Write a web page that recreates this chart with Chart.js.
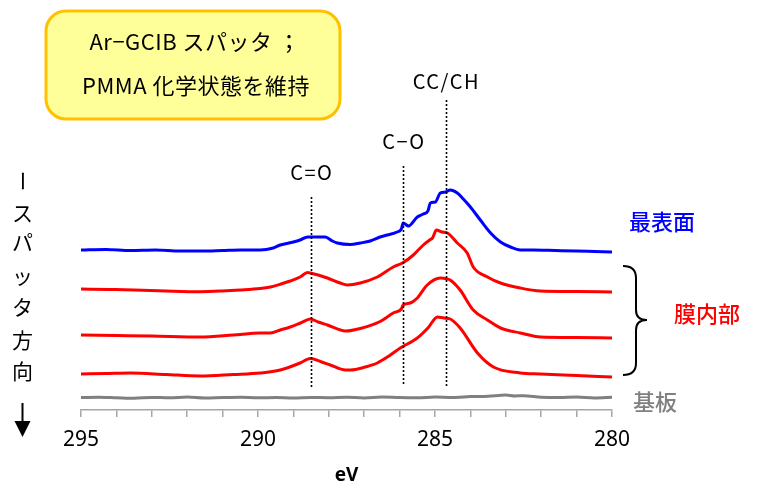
<!DOCTYPE html>
<html>
<head>
<meta charset="utf-8">
<script src="https://cdn.jsdelivr.net/npm/chart.js@4.4.1/dist/chart.umd.min.js"></script>
<style>
  html, body { margin: 0; padding: 0; background: #ffffff; }
  #wrap { position: relative; width: 757px; height: 484px; }
</style>
</head>
<body>
<div id="wrap"><canvas id="c" width="757" height="484"></canvas></div>
<script>
// ---- data (binding energy in eV, intensity in arbitrary units incl. stacking offset) ----
const surfaceEnergy = [295, 294.3, 293.6, 292.9, 292.2, 291.6, 291.0, 290.5, 289.94, 289.57, 289.37, 289.0, 288.81, 288.6, 288.35, 288.1, 287.9, 287.76, 287.39, 287.11, 286.83, 286.55, 286.35, 286.07, 285.95, 285.9, 285.75, 285.5, 285.33, 285.2, 285.13, 284.99, 284.85, 284.7, 284.57, 284.37, 284.2, 284.0, 283.72, 283.43, 283.15, 282.87, 282.59, 282.22, 281.6, 281.0, 280.5, 280];
const surfaceCounts = [160, 160.5, 159.5, 160, 159, 159, 159.5, 160, 160, 162, 165, 168, 170, 173, 173, 173, 169, 167, 165.5, 167, 169, 173, 175, 178, 181, 187, 184, 193, 196, 199, 207, 208, 217, 218, 220, 217, 211, 203, 190, 177, 168, 163, 160, 160, 159.5, 159, 158.5, 158];

const bulk1Energy = [295, 294.2, 293.5, 292.6, 291.63, 291.0, 290.5, 289.94, 289.65, 289.35, 289.09, 288.81, 288.6, 288.52, 288.3, 288.04, 287.68, 287.48, 287.11, 286.63, 286.18, 285.92, 285.61, 285.33, 285.15, 285.07, 284.96, 284.8, 284.65, 284.37, 284.09, 283.92, 283.52, 283.15, 282.59, 282.02, 281.0, 280];
const bulk1Counts = [121, 120.5, 120, 119, 118.3, 119, 120, 121.5, 123, 126, 129, 133, 137.5, 137, 135, 132, 127, 125, 127, 133, 143, 147, 155, 165, 170, 172, 180, 178, 177, 167, 157, 143, 133, 127, 122, 119, 118.5, 118];

const bulk2Energy = [295, 294.0, 293.0, 291.63, 290.7, 289.94, 289.65, 289.37, 289.09, 288.8, 288.52, 288.3, 288.04, 287.53, 287.11, 286.55, 286.18, 285.95, 285.9, 285.7, 285.5, 285.22, 284.85, 284.65, 284.57, 284.29, 283.92, 283.52, 283.15, 282.59, 282.02, 281.0, 280];
const bulk2Counts = [75, 74.5, 74, 73, 75, 77, 77, 80, 83, 87, 91, 88, 85, 79, 81.5, 88.5, 97, 101, 105, 107, 112, 125, 132, 131, 130, 120, 100, 90, 82, 77, 73, 72.5, 72];

const bulk3Energy = [295, 294.3, 293.61, 292.6, 291.63, 290.7, 289.94, 289.37, 288.81, 288.52, 288.2, 287.96, 287.53, 287.39, 286.97, 286.63, 286.3, 285.98, 285.5, 285.2, 284.93, 284.75, 284.57, 284.29, 283.80, 283.35, 282.59, 282.02, 281.0, 280];
const bulk3Counts = [36, 36.5, 37, 35.5, 34, 35.5, 37, 40, 47, 51.5, 48, 45, 40, 40, 43, 47, 54, 62, 72, 82, 93, 92, 91, 82, 57, 43, 37, 36, 34.5, 33];

const substrateEnergy = [295, 294.5, 294, 293.5, 293, 292.5, 292, 291.5, 291, 290.5, 290, 289.5, 289, 288.5, 288, 287.5, 287, 286.5, 286, 285.5, 285, 284.5, 284, 283.5, 283, 282.75, 282.5, 282, 281.5, 281, 280.5, 280];
const substrateCounts = [12.5, 12.8, 12.3, 11.8, 12.6, 12.2, 12.9, 11.9, 12.4, 12.7, 12.2, 12.5, 12.0, 12.6, 12.3, 12.8, 12.1, 12.9, 12.4, 12.2, 13.0, 12.6, 13.4, 13.8, 15.0, 14.0, 14.3, 12.8, 12.4, 12.9, 12.0, 12.7];

const xTickValues = [295, 290, 285, 280];
const peakEnergies = [288.5, 285.9, 284.7];
const peakLabels = ['C=O', 'C\u2212O', 'CC/CH'];

const boxLines = ['Ar\u2212GCIB スパッタ ；', 'PMMA 化学状態を維持'];
const seriesLabels = ['最表面', '膜内部', '基板'];
const sideChars = ['ス', 'パ', 'ッ', 'タ', '方', '向'];

function pts(e, v) { return e.map((x, i) => ({ x: x, y: v[i] })); }

const BLUE = '#0000ff', RED = '#ff0000', GRAY = '#808080';
const JP = '"Noto Sans CJK JP", "Noto Sans", sans-serif';

const annotate = {
  id: 'annotate',
  afterDatasetsDraw(chart) {
    const ctx = chart.ctx;
    const xs = chart.scales.x, ys = chart.scales.y;
    const ca = chart.chartArea;
    ctx.save();

    // dotted reference lines + labels
    const lineTop = [213, 244, 310];
    const lineBottom = [22, 25, 22];
    const labelY = [238, 269, 329];
    ctx.strokeStyle = '#000';
    ctx.lineWidth = 1.6;
    ctx.setLineDash([2, 2]);
    peakEnergies.forEach((e, i) => {
      const px = Math.round(xs.getPixelForValue(e)) + 0.5;
      ctx.beginPath();
      ctx.moveTo(px, ys.getPixelForValue(lineTop[i]));
      ctx.lineTo(px, ys.getPixelForValue(lineBottom[i]));
      ctx.stroke();
    });
    ctx.setLineDash([]);
    ctx.fillStyle = '#000';
    ctx.font = '20px ' + JP;
    ctx.textAlign = 'center';
    ctx.textBaseline = 'middle';
    ctx.letterSpacing = '1.5px';
    peakLabels.forEach((t, i) => {
      ctx.fillText(t, xs.getPixelForValue(peakEnergies[i]) + 0.75, ys.getPixelForValue(labelY[i]));
    });

    // yellow box
    ctx.letterSpacing = '0.5px';
    ctx.beginPath();
    ctx.roundRect(46, 11, 294, 108, 20);
    ctx.fillStyle = '#ffff99';
    ctx.fill();
    ctx.lineWidth = 3;
    ctx.strokeStyle = '#ffc000';
    ctx.stroke();
    ctx.fillStyle = '#000';
    ctx.font = '22px ' + JP;
    ctx.fillText(boxLines[0], 195, 42);
    ctx.fillText(boxLines[1], 196, 86);

    // series labels on right
    ctx.letterSpacing = '0px';
    const R = ca.right;
    ctx.font = '500 22px ' + JP;
    ctx.fillStyle = BLUE;
    ctx.fillText(seriesLabels[0], R + 50, 222);
    ctx.fillStyle = RED;
    ctx.fillText(seriesLabels[1], R + 95, 314);
    ctx.fillStyle = GRAY;
    ctx.fillText(seriesLabels[2], R + 43, 402);

    // curly brace
    const bx = R + 11, top = 266, mid = 320, bot = 375, w = 13;
    ctx.strokeStyle = '#000';
    ctx.lineWidth = 2;
    ctx.beginPath();
    ctx.moveTo(bx, top);
    ctx.quadraticCurveTo(bx + w, top, bx + w, top + 12);
    ctx.lineTo(bx + w, mid - 10);
    ctx.quadraticCurveTo(bx + w, mid, bx + w + 11, mid);
    ctx.quadraticCurveTo(bx + w, mid, bx + w, mid + 10);
    ctx.lineTo(bx + w, bot - 12);
    ctx.quadraticCurveTo(bx + w, bot, bx, bot);
    ctx.stroke();

    // left vertical caption (sputter direction)
    ctx.fillStyle = '#000';
    ctx.font = '21px ' + JP;
    const cx = 22.5;
    ctx.save();
    ctx.translate(cx, 181);
    ctx.rotate(Math.PI / 2);
    ctx.fillText('ー', 0, 0);
    ctx.restore();
    const charY = [213, 242, 276, 307, 340, 371];
    sideChars.forEach((c, i) => ctx.fillText(c, cx, charY[i]));
    // arrow
    ctx.strokeStyle = '#000';
    ctx.lineWidth = 2;
    ctx.beginPath();
    ctx.moveTo(cx, 403);
    ctx.lineTo(cx, 424);
    ctx.stroke();
    ctx.beginPath();
    ctx.moveTo(cx - 8, 421);
    ctx.lineTo(cx + 8, 421);
    ctx.lineTo(cx, 437);
    ctx.closePath();
    ctx.fill();

    ctx.restore();
  }
};

const ds = (label, e, v, color) => ({
  label: label,
  data: pts(e, v),
  borderColor: color,
  backgroundColor: color,
  borderWidth: 3,
  pointRadius: 0,
  tension: 0.25,
  cubicInterpolationMode: 'monotone',
  fill: false
});

new Chart(document.getElementById('c'), {
  type: 'line',
  data: {
    datasets: [
      ds('最表面', surfaceEnergy, surfaceCounts, BLUE),
      ds('膜内部 1', bulk1Energy, bulk1Counts, RED),
      ds('膜内部 2', bulk2Energy, bulk2Counts, RED),
      ds('膜内部 3', bulk3Energy, bulk3Counts, RED),
      ds('基板', substrateEnergy, substrateCounts, GRAY)
    ]
  },
  options: {
    responsive: false,
    animation: false,
    devicePixelRatio: 1,
    layout: { padding: { left: 81, right: 145, top: 80, bottom: 0 } },
    plugins: { legend: { display: false }, tooltip: { enabled: false }, title: { display: false } },
    scales: {
      x: {
        type: 'linear',
        reverse: true,
        min: 280,
        max: 295,
        afterFit(scale) { scale.height = 74; },
        border: { display: true, color: '#a6a6a6', width: 1.5 },
        grid: { display: true, drawOnChartArea: false, drawTicks: true, tickLength: 7, color: '#a6a6a6', lineWidth: 1.5 },
        ticks: {
          stepSize: 1,
          autoSkip: false,
          maxRotation: 0,
          padding: 10,
          color: '#000',
          font: { family: '"Noto Sans", sans-serif', size: 21 },
          callback: (v) => xTickValues.includes(v) ? String(v) : ''
        },
        title: {
          display: true,
          text: 'eV',
          color: '#000',
          font: { family: '"Noto Sans", sans-serif', size: 19, weight: 'bold' },
          padding: { top: 0, bottom: -3 }
        }
      },
      y: { display: false, min: 0, max: 330 }
    }
  },
  plugins: [annotate]
});
</script>
</body>
</html>
